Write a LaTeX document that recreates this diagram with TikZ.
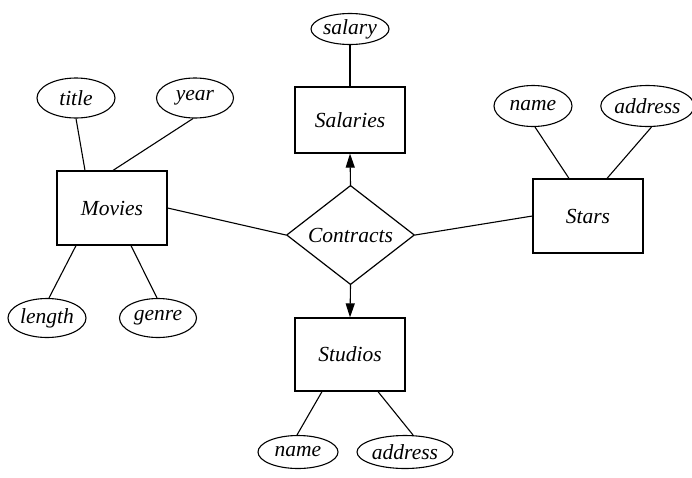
\documentclass[tikz,border=0pt]{standalone}
\usepackage{fontspec}
\setmainfont{Liberation Serif}
\usetikzlibrary{shapes.geometric,arrows.meta}
\begin{document}
\begin{tikzpicture}[x=1pt,y=-1pt,
  every node/.style={font=\fontsize{21.5}{24}\selectfont\itshape},
  entity/.style={draw,line width=1.2pt,rectangle,inner sep=0pt,minimum width=110pt},
  attr/.style={draw,line width=1.1pt,ellipse,inner sep=0pt},
  rel/.style={draw,line width=1.2pt,diamond,inner sep=0pt,minimum width=128pt,minimum height=90pt},
  link/.style={line width=1.1pt},
  arr/.style={line width=1.1pt,-{Triangle[length=14pt,width=9pt]}}]
\useasboundingbox (0,0) rectangle (692,477);
% entities
\node[entity,minimum height=74pt] (movies) at (112,208) {Movies};
\node[entity,minimum height=66pt] (salaries) at (350,120) {Salaries};
\node[entity,minimum height=74pt] (stars) at (588,216) {Stars};
\node[entity,minimum height=73pt] (studios) at (350,354.5) {Studios};
% relationship
\node[rel] (contracts) at (350.5,235) {Contracts};
% attributes
\node[attr,minimum width=78pt,minimum height=40pt] (title) at (76,98) {title};
\node[attr,minimum width=77pt,minimum height=40pt] (year) at (195,98) {year};
\node[attr,minimum width=78pt,minimum height=39pt] (length) at (47,318) {length};
\node[attr,minimum width=77pt,minimum height=39pt] (genre) at (158,318) {genre};
\node[attr,minimum width=78pt,minimum height=31pt] (salary) at (350,29) {salary};
\node[attr,minimum width=78pt,minimum height=41pt] (sname) at (533,106) {name};
\node[attr,minimum width=87pt,minimum height=41pt] (saddr) at (647.5,106) {address};
\node[attr,minimum width=80pt,minimum height=33pt] (tname) at (298,452) {name};
\node[attr,minimum width=96pt,minimum height=33pt] (taddr) at (405,452) {address};
% attribute links
\draw[link] (title.south) -- ([xshift=-27pt]movies.north);
\draw[link] ([xshift=-2pt]year.south) -- ([xshift=1pt]movies.north);
\draw[link] ([xshift=-36pt]movies.south) -- ([xshift=2pt]length.north);
\draw[link] ([xshift=19pt]movies.south) -- ([xshift=-1pt]genre.north);
\draw[link] (salary.south) -- (salaries.north);
\draw[link] ([xshift=2pt]sname.south) -- ([xshift=-19pt]stars.north);
\draw[link] ([xshift=4pt]saddr.south) -- ([xshift=19pt]stars.north);
\draw[link] ([xshift=-28pt]studios.south) -- ([xshift=-1pt]tname.north);
\draw[link] ([xshift=28pt]studios.south) -- ([xshift=8pt]taddr.north);
% relationship links
\draw[link] (movies.east) -- (contracts.west);
\draw[link] (stars.west) -- (contracts.east);
\draw[arr] (contracts.north) -- (salaries.south);
\draw[arr] (contracts.south) -- (studios.north);
\end{tikzpicture}
\end{document}
